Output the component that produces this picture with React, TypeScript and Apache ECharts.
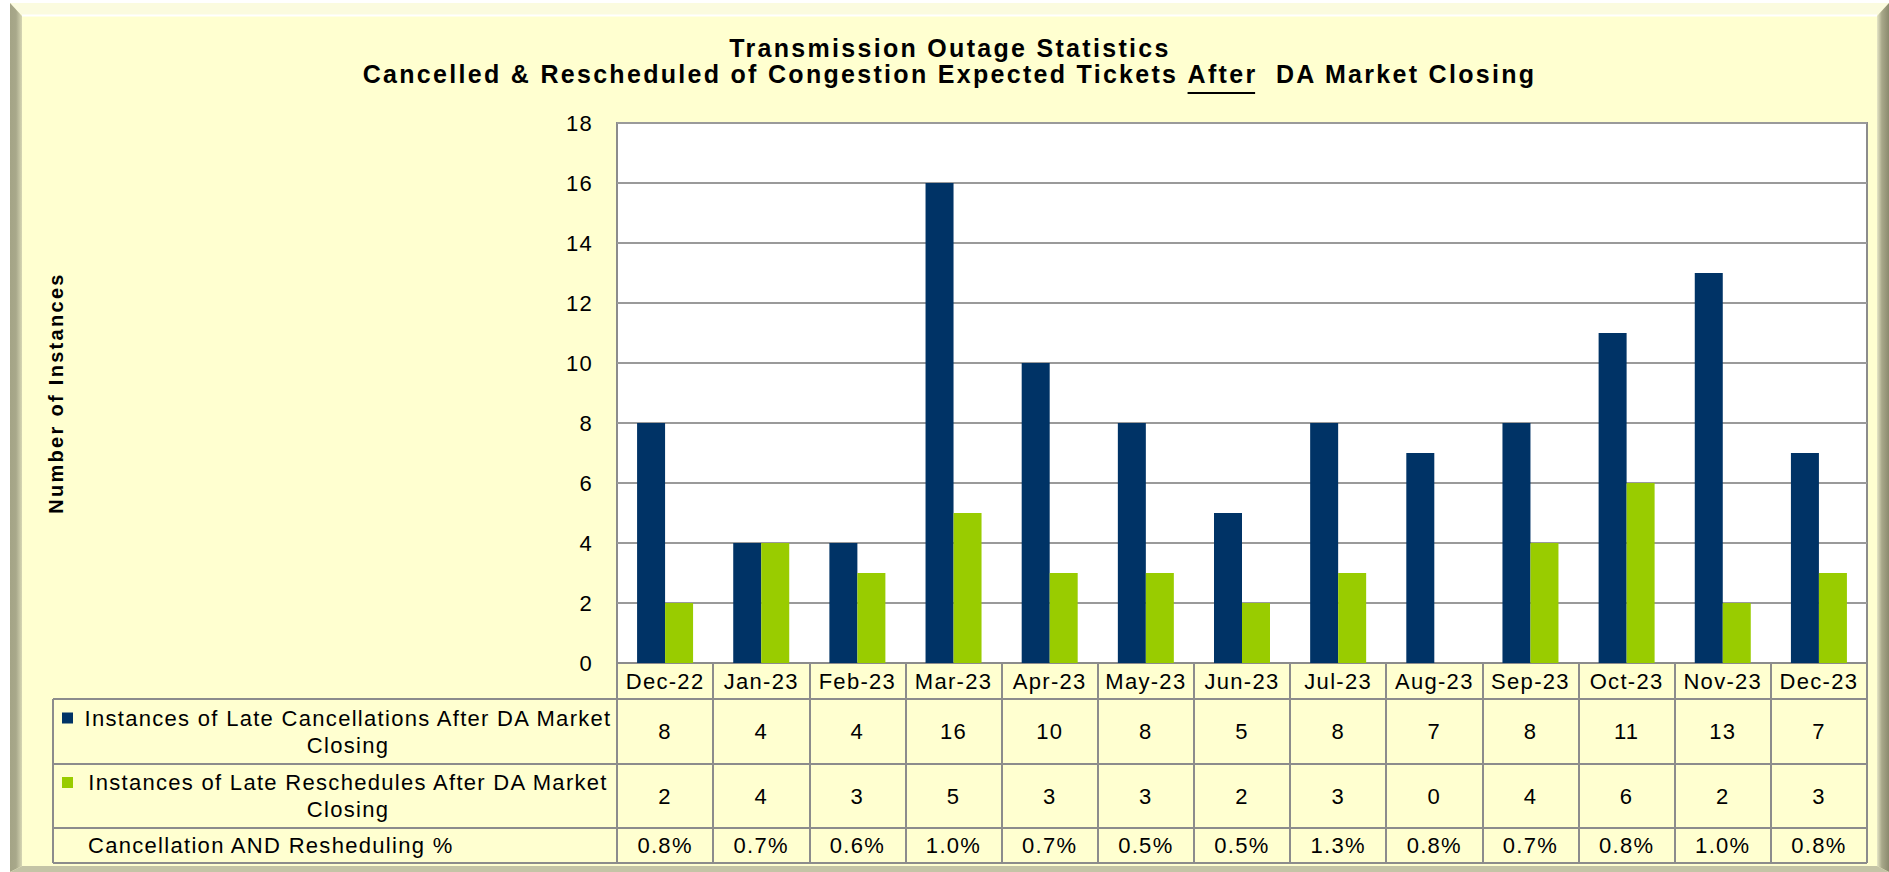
import React, { useEffect, useRef } from "react";
import * as echarts from "echarts";

const categories = ["Dec-22", "Jan-23", "Feb-23", "Mar-23", "Apr-23", "May-23", "Jun-23", "Jul-23", "Aug-23", "Sep-23", "Oct-23", "Nov-23", "Dec-23"];
const cancellations = [8, 4, 4, 16, 10, 8, 5, 8, 7, 8, 11, 13, 7];
const reschedules = [2, 4, 3, 5, 3, 3, 2, 3, 0, 4, 6, 2, 3];
const pctValues = [0.8, 0.7, 0.6, 1.0, 0.7, 0.5, 0.5, 1.3, 0.8, 0.7, 0.8, 1.0, 0.8];
const seriesNames = [
  "Instances of Late Cancellations After DA Market Closing",
  "Instances of Late Reschedules After DA Market Closing",
];
const pctRowLabel = "Cancellation AND Resheduling %";
const titleLine1 = "Transmission Outage Statistics";
const titleLine2Parts = ["Cancelled & Rescheduled of Congestion Expected Tickets ", "After", "  DA Market Closing"];
const yAxisName = "Number of Instances";
const yMin = 0;
const yMax = 18;
const yInterval = 2;

const W = 1889;
const H = 872;
const FONT = "'Liberation Sans', Arial, Helvetica, sans-serif";
const NAVY = "#003366";
const GREEN = "#99CC00";
const PANEL = "#FFFFD0";
const LINE = "#8c8c8c";
const SPACING_REG = 1.3;
const SPACING_BOLD = 2.3;
const TITLE_SIZE = 25;

const gridLeft = 617;
const gridRight = 1867;
const gridTop = 123;
const gridBottom = 663;
const tableLeft = 53;
const rowH = [36, 65, 64, 35];

function measure(text: string, font: string, spacing: number): number {
  const c: any = document.createElement("canvas").getContext("2d");
  if (!c) return text.length * 13;
  c.font = font;
  const hasLS = "letterSpacing" in c;
  if (hasLS) c.letterSpacing = spacing + "px";
  const w = c.measureText(text).width;
  return hasLS ? w : w + text.length * spacing;
}

export default function App() {
  const ref = useRef<HTMLDivElement>(null);
  useEffect(() => {
    if (!ref.current) return;
    const chart = echarts.init(ref.current, undefined, { renderer: "svg" });

    const titleFont = `bold ${TITLE_SIZE}px ${FONT}`;
    const wA = measure(titleLine2Parts[0], titleFont, SPACING_BOLD);
    const wB = measure(titleLine2Parts[1], titleFont, SPACING_BOLD);
    const wC = measure(titleLine2Parts[2], titleFont, SPACING_BOLD);
    const total = wA + wB + wC;
    const cx = 950;
    const startX = cx - total / 2;
    const title1Y = 48;
    const title2Y = 74;

    const rowTops: number[] = [];
    let acc = gridBottom;
    for (const h of rowH) {
      rowTops.push(acc);
      acc += h;
    }
    const tableBottom = acc;

    const graphics: any[] = [];
    // panel
    graphics.push({ type: "rect", z: -10, shape: { x: 10, y: 3, width: W - 10, height: H - 3 }, style: { fill: PANEL } });
    graphics.push({
      type: "polygon", z: -9,
      shape: { points: [[10, 3], [W, 3], [1877, 16], [22, 16]] },
      style: { fill: "#FBFBDF" },
    });
    graphics.push({ type: "line", z: -8, shape: { x1: 22, y1: 15.5, x2: 1877, y2: 15.5 }, style: { stroke: "#ffffff", lineWidth: 2 } });
    graphics.push({
      type: "polygon", z: -9,
      shape: { points: [[10, 3], [22, 16], [22, 866], [10, H]] },
      style: {
        fill: { type: "linear", x: 0, y: 0, x2: 1, y2: 0, colorStops: [{ offset: 0, color: "#a4a486" }, { offset: 0.5, color: "#a8a88a" }, { offset: 1, color: "#d6d6b4" }] },
      },
    });
    graphics.push({
      type: "polygon", z: -9,
      shape: { points: [[W, 3], [W, H], [1877, 866], [1877, 16]] },
      style: {
        fill: { type: "linear", x: 0, y: 0, x2: 1, y2: 0, colorStops: [{ offset: 0, color: "#e6e6c6" }, { offset: 0.4, color: "#a8a88a" }, { offset: 1, color: "#8a8a6e" }] },
      },
    });
    graphics.push({
      type: "polygon", z: -9,
      shape: { points: [[10, H], [W, H], [1877, 866], [22, 866]] },
      style: { fill: "#c4c4a6" },
    });

    // titles
    graphics.push({
      type: "text", x: cx, y: title1Y, z: 20,
      style: { text: titleLine1, font: titleFont, fill: "#000", align: "center", verticalAlign: "middle" },
    });
    graphics.push({
      type: "text", x: startX, y: title2Y, z: 20,
      style: { text: titleLine2Parts[0], font: titleFont, fill: "#000", align: "left", verticalAlign: "middle" },
    });
    graphics.push({
      type: "text", x: startX + wA, y: title2Y, z: 20,
      style: { text: titleLine2Parts[1], font: titleFont, fill: "#000", align: "left", verticalAlign: "middle" },
    });
    graphics.push({
      type: "text", x: startX + wA + wB, y: title2Y, z: 20,
      style: { text: titleLine2Parts[2], font: titleFont, fill: "#000", align: "left", verticalAlign: "middle" },
    });
    graphics.push({
      type: "line", z: 20,
      shape: { x1: startX + wA, y1: title2Y + 19, x2: startX + wA + wB - SPACING_BOLD, y2: title2Y + 19 },
      style: { stroke: "#000", lineWidth: 2 },
    });

    // y-axis name
    graphics.push({
      type: "text", x: 56, y: (gridTop + gridBottom) / 2, rotation: Math.PI / 2, z: 20,
      style: { text: yAxisName, font: `bold 20px ${FONT}`, fill: "#000", align: "center", verticalAlign: "middle" },
    });

    // table lines
    for (let i = 1; i < rowTops.length; i++) {
      graphics.push({
        type: "line", z: 15,
        shape: { x1: tableLeft, y1: rowTops[i], x2: gridRight, y2: rowTops[i] },
        style: { stroke: LINE, lineWidth: 2 },
      });
    }
    graphics.push({
      type: "line", z: 15,
      shape: { x1: tableLeft, y1: tableBottom, x2: gridRight, y2: tableBottom },
      style: { stroke: LINE, lineWidth: 2 },
    });
    graphics.push({
      type: "line", z: 15,
      shape: { x1: tableLeft, y1: rowTops[1], x2: tableLeft, y2: tableBottom },
      style: { stroke: LINE, lineWidth: 2 },
    });

    // legend rows
    const colors = [NAVY, GREEN];
    for (let i = 0; i < 2; i++) {
      const top = rowTops[i + 1];
      const h = rowH[i + 1];
      const line1Y = top + h / 2 - 13.5;
      graphics.push({
        type: "rect", z: 16,
        shape: { x: 62, y: line1Y - 5.5, width: 11, height: 11 },
        style: { fill: colors[i] },
      });
      graphics.push({
        type: "text", x: 348, y: top + h / 2, z: 16,
        style: {
          text: seriesNames[i].replace(/ Closing$/, "\nClosing"),
          font: `22px ${FONT}`, fill: "#000", align: "center", verticalAlign: "middle", lineHeight: 27,
        },
      });
    }
    graphics.push({
      type: "text", x: 88, y: rowTops[3] + rowH[3] / 2, z: 16,
      style: { text: pctRowLabel, font: `22px ${FONT}`, fill: "#000", align: "left", verticalAlign: "middle" },
    });

    const lbl = { fontSize: 22, fontFamily: FONT, color: "#000", align: "center" };

    chart.setOption({
      animation: false,
      backgroundColor: "#ffffff",
      grid: {
        left: gridLeft, top: gridTop, width: gridRight - gridLeft, height: gridBottom - gridTop,
        show: true, backgroundColor: "#ffffff", borderColor: LINE, borderWidth: 2,
        containLabel: false, outerBoundsMode: "none",
      },
      xAxis: {
        type: "category",
        data: categories,
        boundaryGap: true,
        axisLine: { show: true, lineStyle: { color: LINE, width: 2 } },
        axisTick: { show: true, length: tableBottom - gridBottom, alignWithLabel: false, lineStyle: { color: LINE, width: 2 } },
        axisLabel: {
          interval: 0,
          margin: 0,
          formatter: (v: string, i: number) =>
            `{c|${v}}\n{a|${cancellations[i]}}\n{b|${reschedules[i]}}\n{p|${pctValues[i].toFixed(1)}%}`,
          rich: {
            c: { ...lbl, lineHeight: rowH[0] },
            a: { ...lbl, lineHeight: rowH[1] },
            b: { ...lbl, lineHeight: rowH[2] },
            p: { ...lbl, lineHeight: rowH[3] },
          },
        },
        splitLine: { show: false },
      },
      yAxis: {
        type: "value",
        min: yMin,
        max: yMax,
        interval: yInterval,
        axisLine: { show: false },
        axisTick: { show: false },
        axisLabel: { fontSize: 22, fontFamily: FONT, color: "#000", margin: 24 },
        splitLine: { show: true, lineStyle: { color: "#9a9a9a", width: 2 } },
      },
      graphic: { elements: graphics },
      series: [
        {
          name: seriesNames[0], type: "bar", data: cancellations,
          barWidth: 28, barGap: "0%", itemStyle: { color: NAVY },
        },
        {
          name: seriesNames[1], type: "bar", data: reschedules,
          barWidth: 28, barGap: "0%", itemStyle: { color: GREEN },
        },
      ],
    });
    return () => chart.dispose();
  }, []);
  return (
    <>
      <style>{`.chart-host text { letter-spacing: ${SPACING_REG}px; } .chart-host text[style*="bold"] { letter-spacing: ${SPACING_BOLD}px; }`}</style>
      <div className="chart-host" ref={ref} style={{ position: "absolute", left: 0, top: 0, width: W, height: H }} />
    </>
  );
}
